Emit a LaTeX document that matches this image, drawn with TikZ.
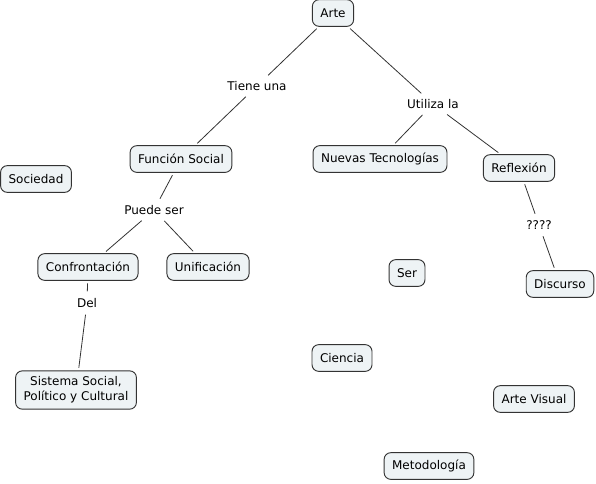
\documentclass[tikz,border=0pt]{standalone}
\usepackage{fontspec}
\setmainfont{DejaVu Sans}
\usetikzlibrary{positioning}
\definecolor{conceptfill}{HTML}{EEF3F5}
\definecolor{linkgray}{HTML}{333333}

\begin{document}
\begin{tikzpicture}[
    x=0.75pt, y=-0.75pt,
    concept/.style={draw=black!80, fill=conceptfill, rounded corners=5pt, align=center, minimum height=20pt, inner xsep=6pt, inner ysep=4.5pt, line width=0.7pt, font=\fontsize{9}{11}\selectfont},
    phrase/.style={inner sep=3pt, font=\fontsize{9}{11}\selectfont},
    link/.style={draw=linkgray, line width=0.6pt, shorten <=2pt, shorten >=2pt}
]
\useasboundingbox (0,0) rectangle (596,483);
\node[concept] (arte) at (333,13) {Arte};
\node[phrase] (tiene) at (257,86) {Tiene una};
\node[phrase] (utiliza) at (433,104) {Utiliza la};
\node[concept] (funcion) at (181,159) {Función Social};
\node[concept] (sociedad) at (36,179) {Sociedad};
\node[concept] (nuevas) at (380,159) {Nuevas Tecnologías};
\node[concept] (reflexion) at (519,168) {Reflexión};
\node[phrase] (puede) at (154,210) {Puede ser};
\node[phrase] (preg) at (539,225) {????};
\node[concept] (confront) at (88,267) {Confrontación};
\node[concept] (unific) at (208,267) {Unificación};
\node[concept] (ser) at (407,273) {Ser};
\node[concept] (discurso) at (560,284) {Discurso};
\node[phrase] (del) at (87,303) {Del};
\node[concept] (ciencia) at (342,358) {Ciencia};
\node[concept] (sistema) at (76,390) {Sistema Social,\\Político y Cultural};
\node[concept] (visual) at (534,399) {Arte Visual};
\node[concept] (metodo) at (429,466) {Metodología};
% enlaces
\draw[link] (arte) -- (tiene);
\draw[link] (tiene) -- (funcion);
\draw[link] (arte) -- (utiliza);
\draw[link] (utiliza) -- (nuevas);
\draw[link] (utiliza) -- (reflexion);
\draw[link] (funcion) -- (puede);
\draw[link] (puede) -- (confront);
\draw[link] (puede) -- (unific);
\draw[link] (confront) -- (del);
\draw[link] (del) -- (sistema);
\draw[link] (reflexion) -- (preg);
\draw[link] (preg) -- (discurso);
\end{tikzpicture}
\end{document}
